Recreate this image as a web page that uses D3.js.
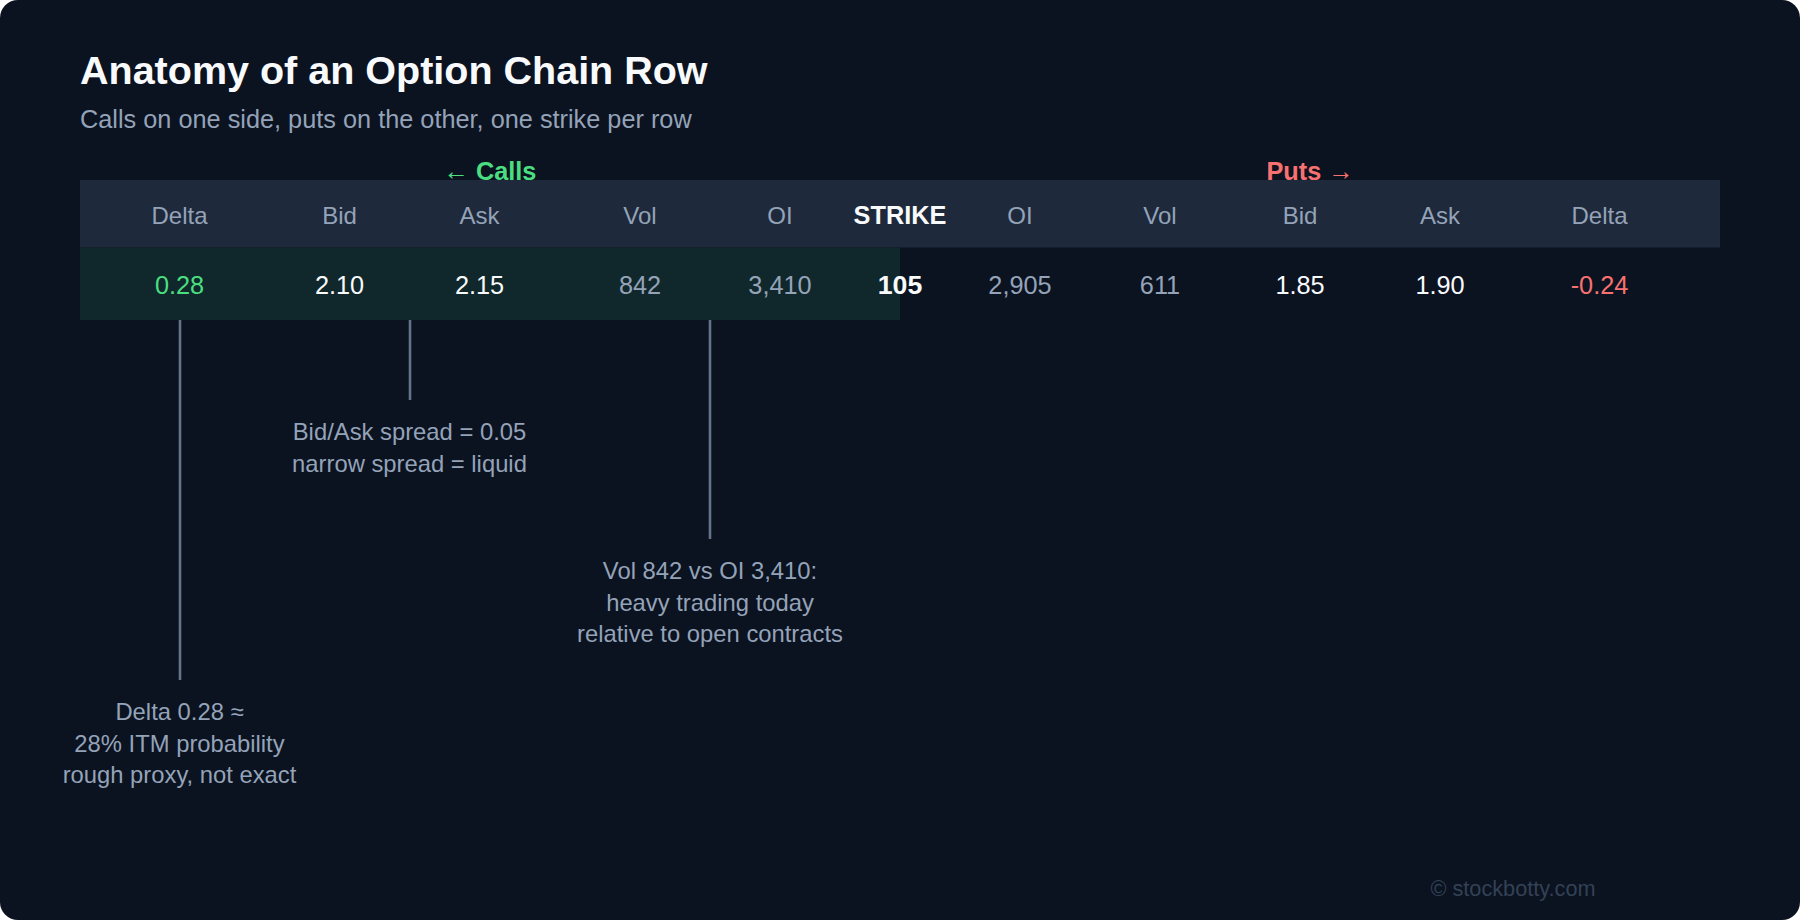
<!DOCTYPE html>
<html>
<head>
<meta charset="utf-8">
<script src="https://cdn.jsdelivr.net/npm/d3@7"></script>
<style>
  html, body { margin: 0; padding: 0; background: #ffffff; }
  svg { display: block; }
  text { font-family: "Liberation Sans", Arial, Helvetica, sans-serif; }
</style>
</head>
<body>
<svg id="chart" width="1800" height="920"></svg>
<script>
// ---------- data ----------
const title = "Anatomy of an Option Chain Row";
const subtitle = "Calls on one side, puts on the other, one strike per row";
const callColumns = ["Delta", "Bid", "Ask", "Vol", "OI"];
const putColumns = ["OI", "Vol", "Bid", "Ask", "Delta"];
const strikeLabel = "STRIKE";
const strikeValue = "105";
const callValues = ["0.28", "2.10", "2.15", "842", "3,410"];
const putValues = ["2,905", "611", "1.85", "1.90", "-0.24"];
const callsLabel = "← Calls";
const putsLabel = "Puts →";
const annotations = [
  { col: "c0", lines: ["Delta 0.28 ≈", "28% ITM probability", "rough proxy, not exact"] },
  { col: "c1.5", lines: ["Bid/Ask spread = 0.05", "narrow spread = liquid"] },
  { col: "c3.5", lines: ["Vol 842 vs OI 3,410:", "heavy trading today", "relative to open contracts"] }
];
const annotationLengths = [360, 80, 219];
const watermark = "© stockbotty.com";

// ---------- layout ----------
const W = 1800, H = 920;
const tableLeft = 80, tableRight = 1720;
const headerTop = 180, headerBottom = 247.5, rowBottom = 320;
// column centers (px) keyed by column id
const colKeys = ["c0","c1","c1.5","c2","c3","c3.5","c4","s","p0","p1","p2","p3","p4"];
const colCenters = [179.5, 339.5, 409.5, 479.5, 640, 710, 780, 900, 1020, 1160, 1300, 1440, 1599.5];
const x = d3.scaleOrdinal().domain(colKeys).range(colCenters);

const C = {
  bg: "#0b1220", header: "#1e293b", rowHi: "#10282b",
  white: "#f8fafc", muted: "#94a3b8", green: "#4ade80", red: "#f87171",
  line: "#64748b", wm: "#334155"
};

const svg = d3.select("#chart");

svg.append("rect").attr("x", 0).attr("y", 0).attr("width", W).attr("height", H)
  .attr("rx", 18).attr("ry", 18).attr("fill", C.bg);

svg.append("text").attr("x", 80).attr("y", 84).text(title)
  .attr("fill", C.white).attr("font-size", 39.5).attr("font-weight", 700);
svg.append("text").attr("x", 80).attr("y", 128).text(subtitle)
  .attr("fill", C.muted).attr("font-size", 25.3);

// header band
svg.append("rect").attr("x", tableLeft).attr("y", headerTop)
  .attr("width", tableRight - tableLeft).attr("height", headerBottom - headerTop)
  .attr("fill", C.header);
// calls row highlight
svg.append("rect").attr("x", tableLeft).attr("y", headerBottom)
  .attr("width", x("s") - tableLeft).attr("height", rowBottom - headerBottom)
  .attr("fill", C.rowHi);

// side labels
const mid = (tableLeft + tableRight) / 2;
svg.append("text").attr("x", (tableLeft + mid) / 2).attr("y", 179.5).attr("text-anchor", "middle")
  .attr("fill", C.green).attr("font-size", 25.3).attr("font-weight", 700).text(callsLabel);
svg.append("text").attr("x", (mid + tableRight) / 2).attr("y", 179.5).attr("text-anchor", "middle")
  .attr("fill", C.red).attr("font-size", 25.3).attr("font-weight", 700).text(putsLabel);

// headers
const headers = callColumns.map((t, i) => ({ key: "c" + i, t }))
  .concat(putColumns.map((t, i) => ({ key: "p" + i, t })));
svg.selectAll("text.hdr").data(headers).join("text").attr("class", "hdr")
  .attr("x", d => x(d.key)).attr("y", 224).attr("text-anchor", "middle")
  .attr("fill", C.muted).attr("font-size", 24).text(d => d.t);
svg.append("text").attr("x", x("s")).attr("y", 224).attr("text-anchor", "middle")
  .attr("fill", C.white).attr("font-size", 25.3).attr("font-weight", 700).text(strikeLabel);

// values
const callColor = i => i === 0 ? C.green : (i <= 2 ? C.white : C.muted);
const putColor = i => i === 4 ? C.red : (i >= 2 ? C.white : C.muted);
const vals = callValues.map((t, i) => ({ key: "c" + i, t, c: callColor(i) }))
  .concat(putValues.map((t, i) => ({ key: "p" + i, t, c: putColor(i) })));
svg.selectAll("text.val").data(vals).join("text").attr("class", "val")
  .attr("x", d => x(d.key)).attr("y", 294).attr("text-anchor", "middle")
  .attr("fill", d => d.c).attr("font-size", 25.3).text(d => d.t);
svg.append("text").attr("x", x("s")).attr("y", 294).attr("text-anchor", "middle")
  .attr("fill", C.white).attr("font-size", 26.7).attr("font-weight", 700).text(strikeValue);

// annotations
const lineLen = d3.scaleLinear().domain([0, 1]).range([rowBottom, rowBottom + 1]);
annotations.forEach((a, i) => {
  const y2 = lineLen(annotationLengths[i]);
  const lx = Math.round(x(a.col));
  svg.append("line").attr("x1", lx).attr("x2", lx)
    .attr("y1", rowBottom).attr("y2", y2)
    .attr("stroke", C.line).attr("stroke-width", 2.6);
  svg.append("g").selectAll("text").data(a.lines).join("text")
    .attr("x", x(a.col)).attr("y", (d, j) => y2 + 40 + j * 31.5)
    .attr("text-anchor", "middle").attr("fill", C.muted).attr("font-size", 23.8)
    .text(d => d);
});

svg.append("text").attr("x", 1513).attr("y", 895.5).attr("text-anchor", "middle")
  .attr("fill", C.wm).attr("font-size", 21.7).text(watermark);
</script>
</body>
</html>
